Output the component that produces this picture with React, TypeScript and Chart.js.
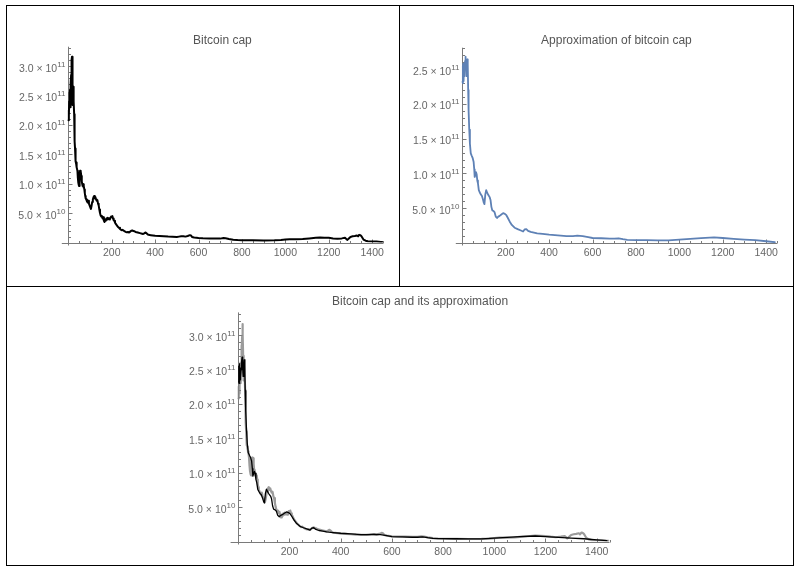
import React, { useEffect, useRef } from 'react';
import Chart, { ChartConfiguration, Plugin } from 'chart.js/auto';

// values are in units of 1e10 dollars
const CAP_UNIT = 1e10;

const rawDays = [
    1, 2, 3, 4, 5, 6, 7, 8, 9, 10,
    11, 12, 13, 14, 15, 16, 17, 18, 19, 20,
    21, 22, 23, 24, 25, 26, 27, 28, 29, 30,
    31, 32, 33, 34, 35, 36, 37, 38, 40, 42,
    44, 46, 48, 50, 52, 54, 56, 58, 60, 62,
    64, 66, 68, 70, 72, 74, 76, 78, 80, 83,
    86, 89, 92, 95, 98, 101, 104, 107, 110, 113,
    116, 119, 122, 125, 128, 131, 134, 137, 140, 143,
    146, 149, 152, 155, 158, 161, 164, 167, 170, 173,
    176, 179, 182, 185, 188, 191, 194, 197, 200, 203,
    206, 209, 212, 215, 218, 222, 226, 230, 234, 238,
    242, 246, 250, 255, 260, 265, 270, 275, 280, 285,
    290, 295, 300, 305, 310, 315, 320, 330, 340, 345,
    350, 355, 360, 365, 370, 380, 390, 400, 420, 440,
    460, 480, 500, 510, 520, 530, 540, 550, 560, 565,
    570, 580, 600, 620, 650, 680, 700, 715, 725, 740,
    760, 780, 800, 850, 900, 950, 980, 1000, 1020, 1050,
    1080, 1110, 1140, 1160, 1180, 1200, 1220, 1240, 1260, 1275,
    1285, 1290, 1300, 1310, 1320, 1330, 1335, 1340, 1345, 1350,
    1355, 1360, 1370, 1380, 1400, 1420, 1440, 1446,
];
const rawCap = [
    20.8, 22.5, 21.5, 24.0, 23.2, 25.5, 24.4, 26.0, 23.8, 23.0,
    24.6, 26.8, 28.5, 27.2, 29.8, 31.0, 31.6, 30.2, 27.0, 23.4,
    25.0, 26.5, 25.6, 26.4, 25.2, 24.0, 21.8, 19.8, 18.5, 17.2,
    16.0, 15.4, 14.6, 14.0, 13.8, 13.4, 13.6, 13.1, 12.8, 12.2,
    11.0, 10.2, 9.8, 9.6, 11.4, 12.2, 11.8, 12.1, 11.3, 10.4,
    10.0, 9.6, 9.9, 9.3, 9.6, 9.0, 8.4, 7.9, 7.5, 7.3,
    7.0, 6.8, 7.1, 6.6, 6.3, 6.0, 5.7, 6.2, 6.9, 7.3,
    7.7, 7.9, 7.5, 7.7, 7.3, 7.1, 7.2, 6.6, 6.3, 5.6,
    5.0, 4.6, 4.4, 4.5, 4.1, 4.3, 3.7, 3.5, 3.9, 3.7,
    4.1, 3.9, 4.2, 4.0, 4.1, 3.9, 4.2, 4.4, 4.3, 4.5,
    4.1, 3.8, 3.7, 3.4, 3.2, 3.0, 2.8, 2.6, 2.5, 2.3,
    2.2, 2.1, 2.15, 2.0, 1.9, 1.8, 1.75, 1.8, 1.7, 1.85,
    2.0, 2.05, 1.95, 1.9, 1.8, 1.75, 1.7, 1.6, 1.5, 1.45,
    1.55, 1.7, 1.6, 1.4, 1.3, 1.25, 1.2, 1.15, 1.1, 1.05,
    1.0, 0.97, 0.95, 1.0, 1.05, 1.08, 1.0, 1.1, 1.25, 1.2,
    0.95, 0.85, 0.75, 0.72, 0.7, 0.68, 0.66, 0.75, 0.72, 0.6,
    0.48, 0.42, 0.4, 0.38, 0.36, 0.38, 0.42, 0.5, 0.55, 0.55,
    0.6, 0.7, 0.8, 0.85, 0.82, 0.8, 0.7, 0.62, 0.7, 0.8,
    0.45, 0.6, 0.95, 1.05, 1.1, 1.2, 1.05, 1.3, 1.25, 1.1,
    0.8, 0.5, 0.3, 0.2, 0.18, 0.15, 0.1, 0.1,
];

const approxDays = [
    1, 2, 3, 4, 5, 6, 7, 8, 9, 11,
    13, 15, 17, 19, 21, 23, 25, 27, 29, 32,
    35, 39, 44, 48, 52, 55, 57, 60, 63, 66,
    69, 72, 76, 80, 85, 90, 95, 99, 102, 106,
    110, 115, 120, 126, 130, 134, 138, 144, 149, 154,
    160, 166, 172, 180, 188, 196, 203, 210, 218, 228,
    241, 255, 270, 280, 287, 295, 303, 315, 330, 345,
    370, 400, 440, 480, 510, 530, 555, 580, 600, 640,
    680, 700, 720, 740, 760, 800, 850, 900, 950, 1000,
    1050, 1100, 1160, 1200, 1250, 1300, 1350, 1400, 1440,
];
const approxCap = [
    23.2, 25.5, 23.0, 25.8, 23.3, 25.6, 23.5, 25.2, 24.0, 25.0,
    26.2, 26.8, 25.6, 24.0, 25.5, 26.4, 25.8, 22.0, 19.0, 16.3,
    14.3, 12.9, 12.5, 12.2, 11.7, 10.6, 9.5, 9.8, 10.2, 9.9,
    9.0, 8.6, 7.6, 7.3, 7.0, 6.8, 6.3, 5.8, 5.6, 7.0,
    7.6, 7.2, 6.9, 6.6, 6.2, 5.2, 4.7, 4.6, 4.4, 3.8,
    3.6, 3.8, 3.9, 4.1, 4.3, 4.2, 4.0, 3.6, 3.1, 2.6,
    2.2, 2.0, 1.8, 1.65, 1.95, 2.0, 1.75, 1.6, 1.5, 1.4,
    1.3, 1.2, 1.1, 1.0, 1.0, 1.05, 1.0, 0.85, 0.72, 0.68,
    0.62, 0.62, 0.68, 0.55, 0.45, 0.42, 0.4, 0.38, 0.38, 0.5,
    0.6, 0.7, 0.8, 0.72, 0.6, 0.5, 0.4, 0.25, 0.12,
];

const xTicks = [200, 400, 600, 800, 1000, 1200, 1400];
const yTicksCap = [5e10, 1e11, 1.5e11, 2e11, 2.5e11, 3e11];
const yTicksApprox = [5e10, 1e11, 1.5e11, 2e11, 2.5e11];

const FONT = '"Liberation Sans", Arial, sans-serif';
const AXIS_COLOR = '#7a7a7a';
const LABEL_COLOR = '#666666';
const TITLE_COLOR = '#555555';
const BLUE = '#5E81B5';

const toPoints = (days: number[], caps: number[]) =>
    days.map((d, i) => ({ x: d, y: caps[i] * CAP_UNIT }));

interface AxesOptions {
    title: string;
    titleY: number;
    yTicks: number[];
}

// Mathematica-like axes: crossing at the origin, ticks pointing inwards
const mmaAxes: Plugin = {
    id: 'mmaAxes',
    beforeDatasetsDraw(chart, _args, opts: any) {
        const o = opts as AxesOptions;
        const { ctx, chartArea } = chart;
        const xs = chart.scales.x;
        const ys = chart.scales.y;
        const x0 = Math.round(xs.getPixelForValue(0)) + 0.5;
        const y0 = Math.round(ys.getPixelForValue(0)) + 0.5;

        ctx.save();
        ctx.strokeStyle = AXIS_COLOR;
        ctx.lineWidth = 1;
        ctx.beginPath();
        ctx.moveTo(chartArea.left, y0);
        ctx.lineTo(chartArea.right, y0);
        ctx.moveTo(x0, y0 + 2);
        ctx.lineTo(x0, chartArea.top);

        for (let v = 50; v <= (xs.max as number); v += 50) {
            const px = Math.round(xs.getPixelForValue(v)) + 0.5;
            const len = v % 200 === 0 ? 4 : 2.5;
            ctx.moveTo(px, y0);
            ctx.lineTo(px, y0 - len);
        }
        for (let i = 1; i * CAP_UNIT <= (ys.max as number); i++) {
            const py = Math.round(ys.getPixelForValue(i * CAP_UNIT)) + 0.5;
            const len = i % 5 === 0 ? 4 : 2.5;
            ctx.moveTo(x0, py);
            ctx.lineTo(x0 + len, py);
        }
        ctx.stroke();

        ctx.fillStyle = LABEL_COLOR;
        ctx.font = `10.5px ${FONT}`;
        ctx.textAlign = 'center';
        ctx.textBaseline = 'middle';
        xTicks.forEach((v) => {
            ctx.fillText(String(v), xs.getPixelForValue(v), y0 + 9.5);
        });

        ctx.textAlign = 'left';
        ctx.textBaseline = 'alphabetic';
        o.yTicks.forEach((v) => {
            const exp = Math.floor(Math.log10(v));
            const mant = (v / Math.pow(10, exp)).toFixed(1);
            const main = `${mant} \u00d7 10`;
            const sup = String(exp);
            const py = ys.getPixelForValue(v);
            ctx.font = `10.5px ${FONT}`;
            const wMain = ctx.measureText(main).width;
            ctx.font = `8px ${FONT}`;
            const wSup = ctx.measureText(sup).width;
            const right = x0 - 3;
            ctx.font = `10.5px ${FONT}`;
            ctx.fillText(main, right - wSup - wMain, py + 5.5);
            ctx.font = `8px ${FONT}`;
            ctx.fillText(sup, right - wSup, py + 0.5);
        });

        ctx.fillStyle = TITLE_COLOR;
        ctx.font = `12px ${FONT}`;
        ctx.textAlign = 'center';
        ctx.textBaseline = 'middle';
        ctx.fillText(o.title, (chartArea.left + chartArea.right) / 2, o.titleY);
        ctx.restore();
    },
};

const makeConfig = (
    datasets: any[],
    yMax: number,
    padding: { left: number; right: number; top: number; bottom: number },
    axes: AxesOptions
): ChartConfiguration => ({
    type: 'line',
    data: { datasets },
    options: {
        animation: false,
        responsive: false,
        layout: { padding },
        scales: {
            x: { type: 'linear', min: -30, max: 1450, display: false },
            y: { type: 'linear', min: 0, max: yMax, display: false },
        },
        elements: {
            point: { radius: 0 },
            line: { tension: 0, borderJoinStyle: 'round', borderCapStyle: 'round' },
        },
        plugins: {
            legend: { display: false },
            tooltip: { enabled: false },
            // @ts-ignore custom plugin options
            mmaAxes: axes,
        },
    },
    plugins: [mmaAxes],
});

const capConfig = makeConfig(
    [{ data: toPoints(rawDays, rawCap), borderColor: '#000000', borderWidth: 2 }],
    3.33e11,
    { left: 54.8, right: 16, top: 40.7, bottom: 43.5 },
    { title: 'Bitcoin cap', titleY: 34.3, yTicks: yTicksCap }
);

const approxConfig = makeConfig(
    [{ data: toPoints(approxDays, approxCap), borderColor: BLUE, borderWidth: 1.8 }],
    2.81e11,
    { left: 55.8, right: 16, top: 41.7, bottom: 43 },
    { title: 'Approximation of bitcoin cap', titleY: 34.3, yTicks: yTicksApprox }
);

const bothConfig = makeConfig(
    [
        { data: toPoints(approxDays, approxCap), borderColor: '#000000', borderWidth: 1.3, order: 0 },
        { data: toPoints(rawDays, rawCap), borderColor: 'rgba(130,130,130,0.8)', borderWidth: 2.2, order: 1 },
    ],
    3.33e11,
    { left: 223.6, right: 183.5, top: 25.4, bottom: 23.5 },
    { title: 'Bitcoin cap and its approximation', titleY: 15, yTicks: yTicksCap }
);

interface PanelProps {
    config: ChartConfiguration;
    left: number;
    top: number;
    width: number;
    height: number;
}

const Panel = ({ config, left, top, width, height }: PanelProps) => {
    const ref = useRef<HTMLCanvasElement>(null);

    useEffect(() => {
        const chart = ref.current ? new Chart(ref.current, config) : null;
        return () => {
            chart?.destroy();
        };
    }, [config]);

    return (
        <canvas
            ref={ref}
            width={width}
            height={height}
            style={{ position: 'absolute', left, top, width, height }}
        />
    );
};

const line = (left: number, top: number, width: number, height: number): React.CSSProperties => ({
    position: 'absolute',
    left,
    top,
    width,
    height,
    background: '#000',
});

export default function App() {
    return (
        <div style={{ position: 'absolute', left: 0, top: 0, width: 800, height: 573, background: '#fff' }}>
            <Panel config={capConfig} left={7} top={6} width={392} height={280} />
            <Panel config={approxConfig} left={400} top={6} width={393} height={280} />
            <Panel config={bothConfig} left={7} top={287} width={786} height={278} />
            <div style={line(6, 5, 787, 1)} />
            <div style={line(6, 565, 788, 1)} />
            <div style={line(6, 5, 1, 561)} />
            <div style={line(793, 5, 1, 561)} />
            <div style={line(399, 5, 1, 282)} />
            <div style={line(6, 286, 788, 1)} />
        </div>
    );
}
